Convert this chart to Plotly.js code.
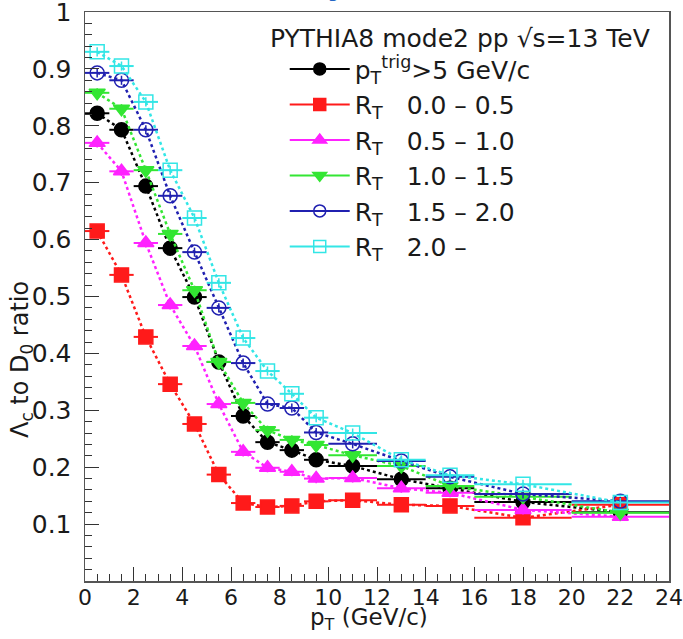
<!DOCTYPE html>
<html>
<head>
<meta charset="utf-8">
<script src="https://cdn.plot.ly/plotly-3.0.1.min.js"></script>
<style>html,body{margin:0;padding:0;background:#fff;overflow:hidden;}#chart{width:683px;height:639px;}</style>
</head>
<body>
<div id="chart"></div>
<script>
// bin centres and half widths (GeV/c)
const ptCenters = [0.5,1.5,2.5,3.5,4.5,5.5,6.5,7.5,8.5,9.5,11,13,15,18,22];
const ptHalfWidths = [0.5,0.5,0.5,0.5,0.5,0.5,0.5,0.5,0.5,0.5,1,1,1,2,2];
const yErr = [0.008,0.008,0.008,0.008,0.008,0.008,0.008,0.008,0.008,0.008,0.008,0.008,0.008,0.008,0.008];

const ratioTrig = [0.822,0.793,0.694,0.585,0.499,0.385,0.290,0.244,0.230,0.213,0.202,0.179,0.163,0.139,0.121];
const ratioRT00 = [0.615,0.538,0.429,0.346,0.276,0.187,0.137,0.130,0.132,0.140,0.142,0.134,0.132,0.111,0.134];
const ratioRT05 = [0.770,0.720,0.594,0.485,0.413,0.311,0.227,0.199,0.192,0.180,0.181,0.163,0.155,0.125,0.113];
const ratioRT10 = [0.858,0.830,0.722,0.610,0.511,0.385,0.313,0.265,0.248,0.239,0.221,0.202,0.167,0.148,0.120];
const ratioRT15 = [0.893,0.880,0.793,0.677,0.578,0.480,0.383,0.311,0.304,0.261,0.241,0.211,0.183,0.153,0.140];
const ratioRT20 = [0.930,0.905,0.842,0.722,0.638,0.524,0.427,0.369,0.329,0.287,0.260,0.213,0.186,0.170,0.138];

const seriesNames = [
  'p<sub>T</sub><sup>trig</sup>&gt;5 GeV/c',
  'R<sub>T</sub>\u00a0\u00a0 0.0 \u2013 0.5',
  'R<sub>T</sub>\u00a0\u00a0 0.5 \u2013 1.0',
  'R<sub>T</sub>\u00a0\u00a0 1.0 \u2013 1.5',
  'R<sub>T</sub>\u00a0\u00a0 1.5 \u2013 2.0',
  'R<sub>T</sub>\u00a0\u00a0 2.0 \u2013'
];
const yTickVals = [0,0.1,0.2,0.3,0.4,0.5,0.6,0.7,0.8,0.9,1];
const yTickText = ['','0.1','0.2','0.3','0.4','0.5','0.6','0.7','0.8','0.9','1'];

const seriesValues = [ratioTrig, ratioRT00, ratioRT05, ratioRT10, ratioRT15, ratioRT20];
const seriesColors = ['#000000','#ff1a1a','#ff22ff','#33e633','#2020b0','#33e6e6'];
const seriesSymbols = ['circle','square','triangle-up','triangle-down','circle-open','square-open'];

const traces = [];
seriesValues.forEach((vals, i) => {
  traces.push({
    x: ptCenters, y: vals, type: 'scatter', mode: 'lines+markers',
    showlegend: false, hoverinfo: 'skip',
    line: {color: seriesColors[i], width: 2.5, dash: 'dot'},
    marker: {symbol: seriesSymbols[i], size: 14, color: seriesColors[i],
             line: {color: seriesColors[i], width: 1.5}},
    error_x: {type: 'data', array: ptHalfWidths, symmetric: true, color: seriesColors[i], thickness: 2, width: 0},
    error_y: {type: 'data', array: yErr, symmetric: true, color: seriesColors[i], thickness: 1.5, width: 0}
  });
});
seriesValues.forEach((vals, i) => {
  traces.push({
    x: [null], y: [null], type: 'scatter', mode: 'lines+markers', name: seriesNames[i],
    line: {color: seriesColors[i], width: 2},
    marker: {symbol: seriesSymbols[i], size: 12, color: seriesColors[i], line: {color: seriesColors[i], width: 1.5}}
  });
});

const fontFam = 'DejaVu Sans, Arial, sans-serif';
const txtCol = '#1a1a1a';
const layout = {
  width: 683, height: 639,
  margin: {l: 85, r: 14, t: 12, b: 58},
  paper_bgcolor: '#ffffff', plot_bgcolor: '#ffffff',
  font: {family: fontFam, color: txtCol, size: 22},
  showlegend: true,
  legend: {
    x: 0.342, y: 0.94, xanchor: 'left', yanchor: 'top',
    bgcolor: 'rgba(0,0,0,0)', borderwidth: 0,
    font: {family: fontFam, size: 25, color: txtCol},
    itemwidth: 60
  },
  xaxis: {
    range: [0, 24], dtick: 2, tick0: 0,
    ticks: 'inside', ticklen: 14, tickwidth: 1, tickcolor: '#333',
    minor: {dtick: 0.5, ticks: 'inside', ticklen: 7, tickwidth: 1, tickcolor: '#333', showgrid: false},
    showline: true, linecolor: '#555', linewidth: 1.5, mirror: true,
    showgrid: false, zeroline: false,
    ticklabelstandoff: -4, ticklabeloverflow: 'allow',
    tickfont: {family: fontFam, size: 22, color: txtCol}
  },
  yaxis: {
    range: [0, 1],
    ticks: 'inside', ticklen: 14, tickwidth: 1, tickcolor: '#333',
    minor: {dtick: 0.02, tick0: 0, ticks: 'inside', ticklen: 7, tickwidth: 1, tickcolor: '#333', showgrid: false},
    showline: true, linecolor: '#555', linewidth: 1.5, mirror: true,
    showgrid: false, zeroline: false,
    ticklabelstandoff: 7, ticklabeloverflow: 'allow',
    tickfont: {family: fontFam, size: 25, color: txtCol},
    tickmode: 'array', tickvals: yTickVals, ticktext: yTickText
  },
  annotations: [
    {
      text: 'PYTHIA8 mode2 pp \u221As=13 TeV',
      xref: 'paper', yref: 'paper', x: (268-85)/584, y: (581-38)/569, xanchor: 'left', yanchor: 'middle',
      showarrow: false, font: {family: fontFam, size: 25, color: txtCol}
    },
    {
      text: '\u039B<sub>c</sub> to D<sub>0</sub> ratio', textangle: -90,
      xref: 'paper', yref: 'paper', x: (21-85)/584, y: (581-360)/569, xanchor: 'center', yanchor: 'middle',
      showarrow: false, font: {family: fontFam, size: 24, color: txtCol}
    },
    {
      text: 'p<sub>T</sub> (GeV/c)',
      xref: 'paper', yref: 'paper', x: (369-85)/584, y: (581-619)/569, xanchor: 'center', yanchor: 'middle',
      showarrow: false, font: {family: fontFam, size: 23, color: txtCol}
    },
    {
      text: '<b>y</b>',
      xref: 'paper', yref: 'paper', x: (337-85)/584, y: (581-3)/569, xanchor: 'center', yanchor: 'bottom',
      showarrow: false, font: {family: 'Liberation Sans, Arial, sans-serif', size: 34, color: '#2566c4'}
    }
  ]
};
Plotly.newPlot('chart', traces, layout, {displayModeBar: false, staticPlot: true});
</script>
</body>
</html>
